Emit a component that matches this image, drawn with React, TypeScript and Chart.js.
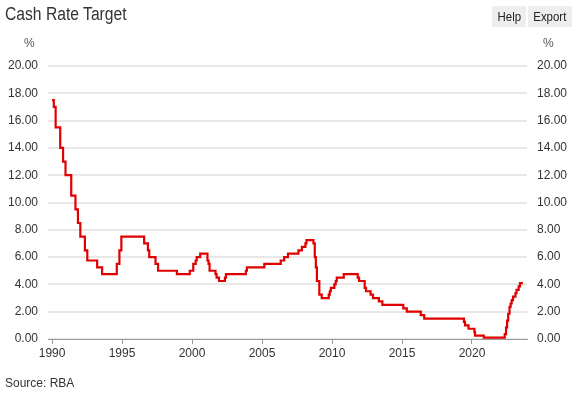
import React, { useEffect, useRef } from "react";
import { Chart, registerables } from "chart.js";

Chart.register(...registerables);

// Cash rate target change dates and levels (per cent)
const rateDates: string[] = [
  "1990-01-01", "1990-02-15", "1990-04-04", "1990-08-02", "1990-10-15", "1990-12-18",
  "1991-05-16", "1991-09-03", "1991-11-07", "1992-01-08", "1992-05-06", "1992-07-08",
  "1993-03-23", "1993-07-30", "1994-08-17", "1994-10-24", "1994-12-14", "1996-07-31",
  "1996-11-06", "1996-12-11", "1997-05-23", "1997-07-30", "1998-12-02", "1999-11-03",
  "2000-02-02", "2000-04-05", "2000-05-03", "2000-08-02", "2001-02-07", "2001-03-07",
  "2001-04-04", "2001-09-05", "2001-10-03", "2001-12-05", "2002-05-08", "2002-06-05",
  "2003-11-05", "2003-12-03", "2005-03-02", "2006-05-03", "2006-08-02", "2006-11-08",
  "2007-08-08", "2007-11-07", "2008-02-06", "2008-03-05", "2008-09-03", "2008-10-08",
  "2008-11-05", "2008-12-03", "2009-02-04", "2009-04-08", "2009-10-07", "2009-11-04",
  "2009-12-02", "2010-03-03", "2010-04-07", "2010-05-05", "2010-11-03", "2011-11-02",
  "2011-12-07", "2012-05-02", "2012-06-06", "2012-10-03", "2012-12-05", "2013-05-08",
  "2013-08-07", "2015-02-04", "2015-05-06", "2016-05-04", "2016-08-03", "2019-06-05",
  "2019-07-03", "2019-10-02", "2020-03-04", "2020-03-20", "2020-11-04", "2022-05-04",
  "2022-06-08", "2022-07-06", "2022-08-03", "2022-09-07", "2022-10-05", "2022-11-02",
  "2022-12-07", "2023-02-08", "2023-03-08", "2023-05-03", "2023-06-07", "2023-08-20",
];
const rateValues: number[] = [
  17.5, 17.0, 15.5, 14.0, 13.0, 12.0,
  10.5, 9.5, 8.5, 7.5, 6.5, 5.75,
  5.25, 4.75, 5.5, 6.5, 7.5, 7.0,
  6.5, 6.0, 5.5, 5.0, 4.75, 5.0,
  5.5, 5.75, 6.0, 6.25, 5.75, 5.5,
  5.0, 4.75, 4.5, 4.25, 4.5, 4.75,
  5.0, 5.25, 5.5, 5.75, 6.0, 6.25,
  6.5, 6.75, 7.0, 7.25, 7.0, 6.0,
  5.25, 4.25, 3.25, 3.0, 3.25, 3.5,
  3.75, 4.0, 4.25, 4.5, 4.75, 4.5,
  4.25, 3.75, 3.5, 3.25, 3.0, 2.75,
  2.5, 2.25, 2.0, 1.75, 1.5, 1.25,
  1.0, 0.75, 0.5, 0.25, 0.1, 0.35,
  0.85, 1.35, 1.85, 2.35, 2.6, 2.85,
  3.1, 3.35, 3.6, 3.85, 4.1, 4.1,
];
const xTickYears: number[] = [1990, 1995, 2000, 2005, 2010, 2015, 2020];
const xMin = 1989.71;
const xMax = 2023.93;
const yMin = 0;
const yMax = 20;
const yStep = 2;

function toYear(d: string): number {
  const [y, m, day] = d.split("-").map(Number);
  const start = Date.UTC(y, 0, 1);
  const end = Date.UTC(y + 1, 0, 1);
  return y + (Date.UTC(y, m - 1, day) - start) / (end - start);
}

const FONT = "'Liberation Sans', Arial, Helvetica, sans-serif";

export default function App() {
  const canvasRef = useRef<HTMLCanvasElement | null>(null);

  useEffect(() => {
    if (!canvasRef.current) return;
    const points = rateDates.map((d, i) => ({ x: toYear(d), y: rateValues[i] }));
    const tickFont = { family: FONT, size: 12 };
    const yTicks = {
      stepSize: yStep,
      padding: 10,
      color: "#333",
      font: tickFont,
      callback: (v: any) => Number(v).toFixed(2),
    };
    const chart = new Chart(canvasRef.current, {
      type: "line",
      data: {
        datasets: [
          {
            data: points,
            borderColor: "#e00000",
            borderWidth: 2.2,
            pointRadius: 0,
            stepped: true,
            fill: false,
          },
        ],
      },
      options: {
        animation: false,
        responsive: false,
        maintainAspectRatio: false,
        layout: { padding: { top: 66, left: 0, right: 0, bottom: 0 } },
        plugins: { legend: { display: false }, tooltip: { enabled: false } },
        scales: {
          x: {
            type: "linear",
            min: xMin,
            max: xMax,
            afterBuildTicks: (s: any) => {
              s.ticks = xTickYears.map((v) => ({ value: v }));
            },
            afterFit: (s: any) => {
              s.height = 57;
            },
            ticks: {
              autoSkip: false,
              maxRotation: 0,
              padding: 2,
              color: "#333",
              font: tickFont,
              callback: (v: any) => String(v),
            },
            grid: { drawOnChartArea: false, drawTicks: true, tickLength: 5, color: "#999" },
            border: { color: "#999", width: 1 },
          },
          y: {
            position: "left",
            min: yMin,
            max: yMax,
            ticks: yTicks,
            grid: { color: "#e8e8e8", lineWidth: 2, drawTicks: false },
            border: { display: false },
            afterFit: (s: any) => {
              s.width = 48;
            },
          },
          y2: {
            position: "right",
            min: yMin,
            max: yMax,
            ticks: yTicks,
            grid: { display: false, drawTicks: false },
            border: { display: false },
            afterFit: (s: any) => {
              s.width = 53;
            },
          },
        },
      },
    } as any);
    return () => chart.destroy();
  }, []);

  const btn: React.CSSProperties = {
    position: "absolute",
    top: 6,
    height: 21,
    background: "#eeeeee",
    color: "#222",
    fontSize: 13,
    lineHeight: "21px",
    textAlign: "center",
    fontFamily: FONT,
  };

  return (
    <div
      style={{
        position: "fixed",
        left: 0,
        top: 0,
        width: 580,
        height: 396,
        background: "#fff",
        fontFamily: FONT,
        overflow: "hidden",
      }}
    >
      <canvas
        ref={canvasRef}
        width={580}
        height={396}
        style={{ position: "absolute", left: 0, top: 0, width: 580, height: 396 }}
      />
      <div
        style={{
          position: "absolute",
          left: 5,
          top: 3,
          fontSize: 18,
          lineHeight: "22px",
          color: "#333",
          transform: "scaleX(0.87)",
          transformOrigin: "left top",
          whiteSpace: "nowrap",
        }}
      >
        Cash Rate Target
      </div>
      <div style={{ ...btn, left: 492, width: 34 }}>
        <span style={{ display: "inline-block", transform: "scaleX(0.88)" }}>Help</span>
      </div>
      <div style={{ ...btn, left: 528, width: 44 }}>
        <span style={{ display: "inline-block", transform: "scaleX(0.88)" }}>Export</span>
      </div>
      <div style={{ position: "absolute", left: 24, top: 36, fontSize: 12, color: "#555" }}>%</div>
      <div style={{ position: "absolute", left: 543, top: 36, fontSize: 12, color: "#555" }}>%</div>
      <div style={{ position: "absolute", left: 5, top: 376, fontSize: 12, color: "#333" }}>
        Source: RBA
      </div>
    </div>
  );
}
